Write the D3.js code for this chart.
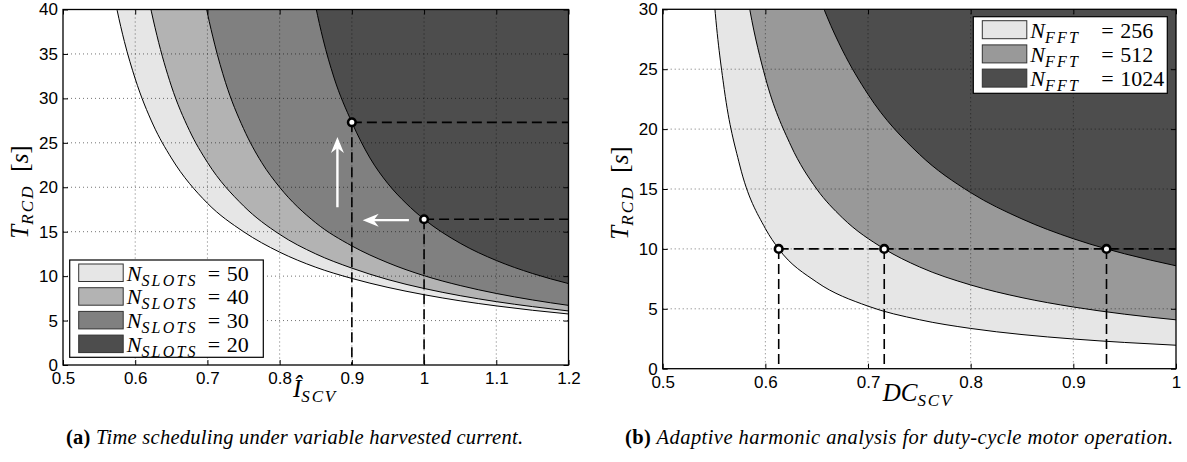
<!DOCTYPE html>
<html>
<head>
<meta charset="utf-8">
<script src="https://cdn.jsdelivr.net/npm/d3@7"></script>
<style>
  body { margin: 0; background: #fff; }
  svg { display: block; }
</style>
</head>
<body>
<svg id="fig" width="1187" height="462"></svg>
<script>
// ---------- Panel (a): time scheduling vs. normalised harvested current ----------
const slotCounts = [50, 40, 30, 20];
const slotFills = ["#e6e6e6", "#b3b3b3", "#808080", "#4d4d4d"];
const currentTicks = [0.5, 0.6, 0.7, 0.8, 0.9, 1.0, 1.1, 1.2];
const trcdTicksA = [0, 5, 10, 15, 20, 25, 30, 35, 40];

// boundary curves [I_SCV, T_RCD]
const slots50 = [[0.565, 44.1], [0.575, 39.9], [0.585, 36.4], [0.6, 32.2], [0.625, 27.0], [0.65, 23.3],
  [0.7, 18.2], [0.75, 15.0], [0.8, 12.7], [0.85, 11.0], [0.9, 9.74], [0.95, 8.73], [1.0, 7.91],
  [1.05, 7.22], [1.1, 6.65], [1.15, 6.16], [1.2, 5.74]];
const slots40 = [[0.61, 45.1], [0.62, 40.7], [0.63, 37.1], [0.65, 31.4], [0.675, 26.4], [0.7, 22.8],
  [0.75, 17.9], [0.8, 14.7], [0.85, 12.5], [0.9, 10.9], [0.95, 9.61], [1.0, 8.61], [1.05, 7.80],
  [1.1, 7.13], [1.15, 6.57], [1.2, 6.08]];
const slots30 = [[0.69, 43.9], [0.7, 39.6], [0.71, 36.1], [0.725, 31.8], [0.75, 26.6], [0.775, 22.8],
  [0.8, 20.0], [0.85, 16.0], [0.9, 13.4], [0.95, 11.5], [1.0, 10.05], [1.05, 8.94], [1.1, 8.05],
  [1.15, 7.32], [1.2, 6.71]];
const slots20 = [[0.84, 44.6], [0.85, 40.3], [0.86, 36.7], [0.875, 32.4], [0.9, 27.3], [0.925, 23.3],
  [0.95, 20.4], [0.975, 18.2], [1.0, 16.4], [1.05, 13.7], [1.1, 11.76], [1.15, 10.3], [1.2, 9.16]];

// operating points on the N=20 boundary
const slotPoints = [[0.9, 27.3], [1.0, 16.4]];
// white arrows: [tail, tip]
const slotArrows = [[[0.88, 17.75], [0.88, 25.65]], [[0.979, 16.3], [0.915, 16.3]]];

// ---------- Panel (b): harmonic analysis vs. duty cycle ----------
const fftSizes = [256, 512, 1024];
const fftFills = ["#e6e6e6", "#999999", "#4d4d4d"];
const dutyTicks = [0.5, 0.6, 0.7, 0.8, 0.9, 1.0];
const trcdTicksB = [0, 5, 10, 15, 20, 25, 30];

const fft256 = [[0.545, 37.0], [0.55, 30.9], [0.56, 23.3], [0.575, 17.0], [0.6, 11.7], [0.613, 10.0],
  [0.65, 7.23], [0.7, 5.22], [0.75, 4.09], [0.8, 3.36], [0.85, 2.85], [0.9, 2.48], [0.95, 2.19], [1.0, 1.96]];
const fft512 = [[0.58, 32.4], [0.585, 29.9], [0.6, 24.3], [0.625, 18.6], [0.65, 15.0], [0.675, 12.6],
  [0.7158, 10.0], [0.75, 8.50], [0.8, 6.99], [0.85, 5.93], [0.9, 5.15], [0.95, 4.55], [1.0, 4.08]];
const fft1024 = [[0.65, 31.6], [0.66, 29.4], [0.675, 26.6], [0.7, 22.9], [0.75, 17.9], [0.8, 14.7],
  [0.85, 12.5], [0.9, 10.85], [0.9323, 10.0], [0.95, 9.59], [1.0, 8.59]];

const fftPoints = [[0.613, 10], [0.7158, 10], [0.9323, 10]];

const svg = d3.select("#fig");
const mathFont = "'Liberation Serif', 'DejaVu Serif', serif";
const tickFont = "'Liberation Sans', Arial, sans-serif";
const captionFont = "'Liberation Serif', 'DejaVu Serif', serif";

function drawPanel(cfg) {
  const g = svg.append("g");
  const x = d3.scaleLinear().domain(cfg.xDomain).range([cfg.left, cfg.right]);
  const y = d3.scaleLinear().domain(cfg.yDomain).range([cfg.bottom, cfg.top]);
  const yMax = cfg.yDomain[1];

  g.append("clipPath").attr("id", cfg.id + "-clip")
    .append("rect").attr("x", cfg.left).attr("y", cfg.top)
    .attr("width", cfg.right - cfg.left).attr("height", cfg.bottom - cfg.top);

  const plot = g.append("g").attr("clip-path", `url(#${cfg.id}-clip)`);

  // shaded regions above each boundary
  const area = d3.area().x(d => x(d[0])).y0(y(yMax)).y1(d => y(d[1])).curve(d3.curveMonotoneX);
  const line = d3.line().x(d => x(d[0])).y(d => y(d[1])).curve(d3.curveMonotoneX);
  cfg.curves.forEach((c, i) => {
    plot.append("path").datum(c).attr("d", area).attr("fill", cfg.fills[i]).attr("stroke", "none");
  });
  cfg.curves.forEach(c => {
    plot.append("path").datum(c).attr("d", line).attr("fill", "none")
      .attr("stroke", "#000").attr("stroke-width", 1);
  });

  // dotted grid
  const grid = plot.append("g").attr("stroke", "#000").attr("stroke-opacity", 0.55)
    .attr("stroke-width", 1).attr("stroke-dasharray", "1,3");
  cfg.xTicks.slice(1, -1).forEach(v => grid.append("line")
    .attr("x1", x(v)).attr("x2", x(v)).attr("y1", cfg.top).attr("y2", cfg.bottom));
  cfg.yTicks.slice(1, -1).forEach(v => grid.append("line")
    .attr("x1", cfg.left).attr("x2", cfg.right).attr("y1", y(v)).attr("y2", y(v)));

  // dashed guides
  const guides = plot.append("g").attr("stroke", "#000").attr("stroke-width", 1.6)
    .attr("stroke-dasharray", "10,5").attr("fill", "none");
  cfg.guides.forEach(s => guides.append("line")
    .attr("x1", x(s[0][0])).attr("y1", y(s[0][1])).attr("x2", x(s[1][0])).attr("y2", y(s[1][1])));

  // arrows
  (cfg.arrows || []).forEach(([tail, tip]) => {
    const x0 = x(tail[0]), y0 = y(tail[1]), x1 = x(tip[0]), y1 = y(tip[1]);
    const ang = Math.atan2(y1 - y0, x1 - x0);
    const len = Math.hypot(x1 - x0, y1 - y0);
    const a = plot.append("g").attr("transform", `translate(${x0},${y0}) rotate(${ang * 180 / Math.PI})`);
    a.append("line").attr("x1", 0).attr("y1", 0).attr("x2", len - 8).attr("y2", 0)
      .attr("stroke", "#fff").attr("stroke-width", 2.4);
    a.append("path").attr("d", `M${len},0 L${len - 16},-6.5 L${len - 11},0 L${len - 16},6.5 Z`)
      .attr("fill", "#fff");
  });

  // operating points
  g.append("g").selectAll("circle").data(cfg.points).join("circle")
    .attr("cx", d => x(d[0])).attr("cy", d => y(d[1])).attr("r", 3.8)
    .attr("fill", "#fff").attr("stroke", "#000").attr("stroke-width", 2.6);

  // axes with inward ticks on all four sides
  const styleAxis = sel => {
    sel.attr("font-size", null).attr("font-family", null);
    sel.selectAll("text").attr("font-family", tickFont).attr("font-size", 17).attr("fill", "#000");
    sel.selectAll("line").attr("stroke", "#000");
    sel.select(".domain").remove();
  };
  g.append("g").attr("transform", `translate(0,${cfg.bottom})`)
    .call(d3.axisBottom(x).tickValues(cfg.xTicks).tickFormat(d3.format("~g")).tickSize(-5).tickPadding(7))
    .call(styleAxis);
  g.append("g").attr("transform", `translate(0,${cfg.top})`)
    .call(d3.axisTop(x).tickValues(cfg.xTicks).tickFormat("").tickSize(-5))
    .call(styleAxis);
  g.append("g").attr("transform", `translate(${cfg.left},0)`)
    .call(d3.axisLeft(y).tickValues(cfg.yTicks).tickFormat(d3.format("~g")).tickSize(-5).tickPadding(5))
    .call(styleAxis);
  g.append("g").attr("transform", `translate(${cfg.right},0)`)
    .call(d3.axisRight(y).tickValues(cfg.yTicks).tickFormat("").tickSize(-5))
    .call(styleAxis);
  g.selectAll(".tick line").attr("stroke-width", 1);

  g.append("rect").attr("x", cfg.left).attr("y", cfg.top)
    .attr("width", cfg.right - cfg.left).attr("height", cfg.bottom - cfg.top)
    .attr("fill", "none").attr("stroke", "#000").attr("stroke-width", 1.3);

  // y-axis label  T_RCD [s]
  const yl = g.append("text").attr("transform", `translate(${cfg.yLabelX},${cfg.yLabelY}) rotate(-90)`)
    .attr("text-anchor", "middle").attr("font-family", mathFont).attr("font-size", 25);
  yl.append("tspan").attr("font-style", "italic").text("T");
  yl.append("tspan").attr("font-style", "italic").attr("font-size", 17).attr("letter-spacing", 2.2)
    .attr("dy", 5).text("RCD");
  yl.append("tspan").attr("dy", -5).text("\u2002[");
  yl.append("tspan").attr("font-style", "italic").text("s");
  yl.append("tspan").text("]");

  // x-axis label
  const xl = g.append("text").attr("x", cfg.xLabelX).attr("y", cfg.xLabelY)
    .attr("text-anchor", "middle").attr("font-family", mathFont).attr("font-size", 25);
  xl.append("tspan").attr("font-style", "italic").text(cfg.xLabelMain);
  xl.append("tspan").attr("font-style", "italic").attr("font-size", 17).attr("letter-spacing", 1.8)
    .attr("dy", 5).text("SCV");

  // legend
  const L = cfg.legend;
  const lg = g.append("g");
  lg.append("rect").attr("x", L.x).attr("y", L.y).attr("width", L.w).attr("height", L.h)
    .attr("fill", "#fff").attr("stroke", "#000").attr("stroke-width", 1.2);
  cfg.labels.forEach((lab, i) => {
    const ry = L.y + L.pad + i * L.step;
    lg.append("rect").attr("x", L.x + 9).attr("y", ry).attr("width", 44.5).attr("height", L.sw)
      .attr("fill", cfg.fills[i]).attr("stroke", "#333").attr("stroke-width", 1);
    const t = lg.append("text").attr("x", L.x + 57).attr("y", ry + L.sw - 1)
      .attr("font-family", mathFont).attr("font-size", 22);
    t.append("tspan").attr("font-style", "italic").text("N");
    t.append("tspan").attr("font-style", "italic").attr("font-size", 16).attr("letter-spacing", 2.2)
      .attr("dy", 5).text(L.sub);
    t.append("tspan").attr("x", L.x + L.eqOff).attr("dy", -5).text("=");
    t.append("tspan").attr("x", L.x + L.numOff).text(lab);
  });

  // caption
  const cap = svg.append("text").attr("x", cfg.capX).attr("y", 444).attr("text-anchor", "middle")
    .attr("font-family", captionFont).attr("font-size", 20.5)
    .attr("textLength", cfg.capWidth).attr("lengthAdjust", "spacing");
  cap.append("tspan").attr("font-weight", "bold").text(cfg.capTag);
  cap.append("tspan").attr("font-style", "italic").text(" " + cfg.capText);
}

drawPanel({
  id: "pa", left: 63, right: 568.5, top: 9.5, bottom: 365,
  xDomain: [0.5, 1.2], yDomain: [0, 40], xTicks: currentTicks, yTicks: trcdTicksA,
  curves: [slots50, slots40, slots30, slots20], fills: slotFills,
  guides: [
    [slotPoints[0], [1.2, slotPoints[0][1]]], [slotPoints[0], [slotPoints[0][0], 0]],
    [slotPoints[1], [1.2, slotPoints[1][1]]], [slotPoints[1], [slotPoints[1][0], 0]]
  ],
  points: slotPoints, arrows: slotArrows,
  yLabelX: 28, yLabelY: 192, xLabelX: 315, xLabelY: 397, xLabelMain: "Î",
  legend: { x: 69.7, y: 260, w: 193.6, h: 97.3, pad: 4, step: 23.7, sw: 17.5, sub: "SLOTS", eqOff: 138, numOff: 157 },
  labels: slotCounts,
  capX: 294.5, capWidth: 457, capTag: "(a)", capText: "Time scheduling under variable harvested current."
});

drawPanel({
  id: "pb", left: 662.7, right: 1176, top: 9.3, bottom: 368.7,
  xDomain: [0.5, 1.0], yDomain: [0, 30], xTicks: dutyTicks, yTicks: trcdTicksB,
  curves: [fft256, fft512, fft1024], fills: fftFills,
  guides: [
    [fftPoints[0], [1.0, 10]],
    ...fftPoints.map(p => [p, [p[0], 0]])
  ],
  points: fftPoints, arrows: [],
  yLabelX: 628, yLabelY: 193, xLabelX: 918, xLabelY: 401, xLabelMain: "DC",
  legend: { x: 973.3, y: 16.7, w: 194, h: 76.6, pad: 4, step: 24.2, sw: 18, sub: "FFT", eqOff: 128, numOff: 147 },
  labels: fftSizes,
  capX: 899, capWidth: 548, capTag: "(b)", capText: "Adaptive harmonic analysis for duty-cycle motor operation."
});
</script>
</body>
</html>
